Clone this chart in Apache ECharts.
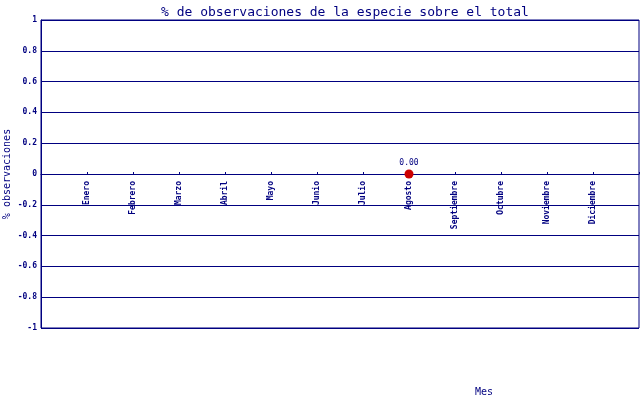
<!DOCTYPE html>
<html>
<head>
<meta charset="utf-8">
<script src="https://cdn.jsdelivr.net/npm/echarts@6/dist/echarts.min.js"></script>
<style>
  html, body { margin: 0; padding: 0; background: #fff; }
  #chart { width: 640px; height: 400px; }
</style>
</head>
<body>
<div id="chart"></div>
<script>
// empty slots at both ends give the same spacing as the original
var months = ["", "Enero", "Febrero", "Marzo", "Abril", "Mayo", "Junio", "Julio",
  "Agosto", "Septiembre", "Octubre", "Noviembre", "Diciembre", ""];
var percent = [null, null, null, null, null, null, null, null, 0, null, null, null, null, null];

var navy = "#000080";
var mono = "DejaVu Sans Mono";

var chart = echarts.init(document.getElementById("chart"));
chart.setOption({
  backgroundColor: "#fff",
  animation: false,
  title: {
    text: "% de observaciones de la especie sobre el total",
    left: 340,
    textAlign: "center",
    top: 1,
    textStyle: { fontFamily: mono, fontSize: 13, fontWeight: "normal", color: navy }
  },
  grid: {
    left: 41, right: 1, top: 20, bottom: 72,
    containLabel: false, outerBoundsMode: "none",
    show: true, borderColor: navy, borderWidth: 1
  },
  xAxis: {
    type: "category",
    data: months,
    boundaryGap: false,
    axisLine: { onZero: true, lineStyle: { color: navy, width: 1 } },
    axisTick: { show: true, inside: true, length: 2, lineStyle: { color: navy } },
    axisLabel: {
      // labels sit just under the zero line, not at the bottom of the plot
      rotate: 90, margin: -147, interval: 0,
      fontFamily: mono, fontSize: 8, fontWeight: "bold", color: navy
    },
    splitLine: { show: false }
  },
  yAxis: {
    type: "value",
    min: -1, max: 1, interval: 0.2,
    name: "% observaciones",
    nameLocation: "middle",
    nameGap: 29,
    nameMoveOverlap: false,
    nameTextStyle: { fontFamily: mono, fontSize: 10, color: navy },
    axisLine: { show: true, lineStyle: { color: navy } },
    axisTick: { show: false },
    axisLabel: {
      margin: 4, fontFamily: mono, fontSize: 8, fontWeight: "bold", color: navy,
      formatter: function (v) { return String(Math.round(v * 10) / 10); }
    },
    splitLine: { show: true, lineStyle: { color: navy, width: 1 } }
  },
  graphic: [{
    type: "text", left: 475, top: 387,
    style: { text: "Mes", font: "10px " + mono, fill: navy }
  }],
  series: [{
    type: "line",
    data: percent,
    symbol: "circle",
    symbolSize: 9,
    itemStyle: { color: "#cc0000" },
    lineStyle: { width: 0 },
    label: {
      show: true, position: "top", distance: 3,
      fontFamily: mono, fontSize: 8, color: navy,
      formatter: function (p) { return p.value.toFixed(2); }
    }
  }]
});
</script>
</body>
</html>
